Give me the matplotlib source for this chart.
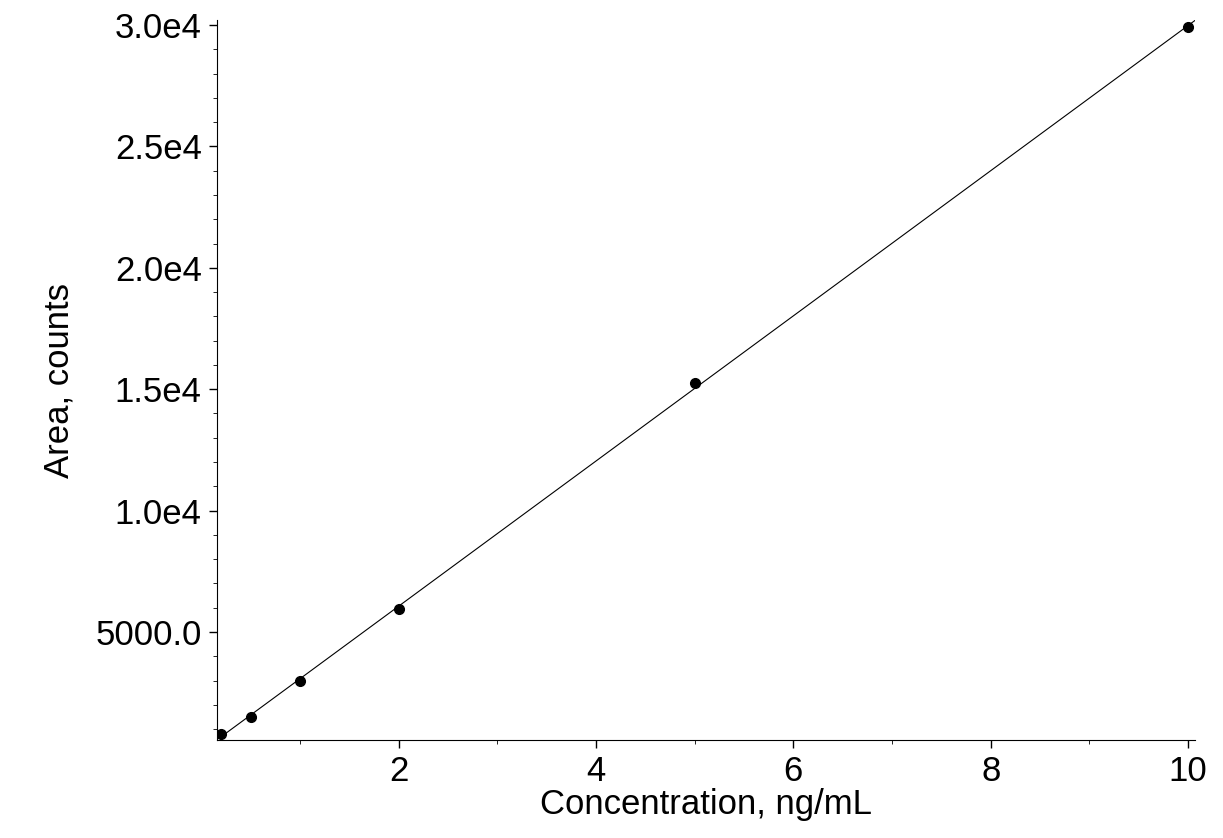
import numpy as np
import matplotlib.pyplot as plt
from matplotlib.ticker import MultipleLocator, FuncFormatter

conc = [0.2, 0.5, 1.0, 2.0, 5.0, 10.0]
area = [800, 1500, 3000, 5950, 15250, 29900]

plt.rcParams['font.family'] = ['Liberation Sans', 'DejaVu Sans']
fig = plt.figure(figsize=(12.23, 8.38), dpi=100)
ax = fig.add_axes([217/1223, 98/838, 978/1223, 720/838])

slope, icpt = np.polyfit(conc, area, 1)
xl = np.array([0.19, 10.07])
ax.plot(xl, slope*xl + icpt, color='black', lw=0.8)
ax.plot(conc, area, 'o', color='black', ms=7)

ax.set_xlim(0.16, 10.07)
ax.set_ylim(552, 30206)
ax.xaxis.set_major_locator(MultipleLocator(2))
ax.xaxis.set_minor_locator(MultipleLocator(1))
ax.yaxis.set_major_locator(MultipleLocator(5000))
ax.yaxis.set_minor_locator(MultipleLocator(1000))

def fmt(v, p):
    if v < 1e4:
        return '%.1f' % v
    return '%.1fe4' % (v/1e4)
ax.yaxis.set_major_formatter(FuncFormatter(fmt))

for s in ['top', 'right']:
    ax.spines[s].set_visible(False)
ax.tick_params(labelsize=25, length=6, width=1, pad=5)
ax.tick_params(which='minor', length=3)
ax.set_xlabel('Concentration, ng/mL', fontsize=25, labelpad=0)
ax.set_ylabel('Area, counts', fontsize=25, labelpad=14)
fig.savefig('out.png', dpi=100)
